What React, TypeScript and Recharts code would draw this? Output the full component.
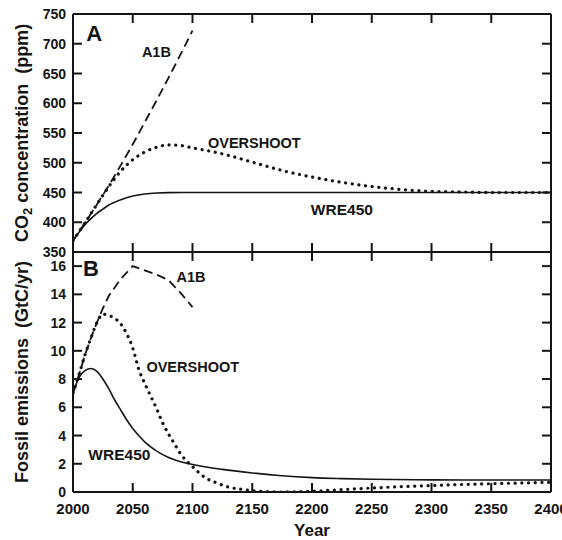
import React from 'react';
import { LineChart, Line, XAxis, YAxis, ReferenceDot, ReferenceLine } from 'recharts';

// ---------- data ----------
const xTicks = [2000, 2050, 2100, 2150, 2200, 2250, 2300, 2350, 2400];
const co2Ticks = [350, 400, 450, 500, 550, 600, 650, 700, 750];
const emisTicks = [0, 2, 4, 6, 8, 10, 12, 14, 16];

// Panel A: CO2 concentration (ppm)
const co2A1BYears = [2000, 2010, 2020, 2030, 2040, 2050, 2060, 2070, 2080, 2090, 2100];
const co2A1B = [369, 399, 430, 462, 496, 531, 568, 605, 643, 682, 722];

const co2OverYears = [2000, 2010, 2020, 2030, 2040, 2050, 2060, 2070, 2080, 2090, 2100, 2125, 2150, 2175, 2200, 2225, 2250, 2275, 2300, 2325, 2350, 2400];
const co2Over = [369, 399, 430, 460, 486, 505, 518, 526, 530, 529, 525, 515, 501, 487, 476, 467, 460, 455, 452, 451, 450, 450];

const co2WreYears = [2000, 2005, 2010, 2015, 2020, 2025, 2030, 2040, 2050, 2060, 2070, 2080, 2100, 2400];
const co2Wre = [369, 383, 396, 406, 415, 422, 429, 438, 444, 447.5, 449.2, 449.8, 450, 450];

// Panel B: fossil emissions (GtC/yr)
const emA1BYears = [2000, 2005, 2010, 2015, 2020, 2025, 2030, 2040, 2050, 2060, 2070, 2080, 2090, 2100];
const emA1B = [7.0, 8.3, 9.7, 10.9, 12.0, 13.0, 13.9, 15.1, 16.0, 15.7, 15.4, 15.0, 14.1, 13.1];

const emOverYears = [2000, 2005, 2010, 2015, 2020, 2025, 2030, 2035, 2040, 2045, 2050, 2055, 2060, 2065, 2070, 2075, 2080, 2085, 2090, 2095, 2100, 2105, 2110, 2120, 2130, 2140, 2150, 2160, 2175, 2200, 2225, 2250, 2275, 2300, 2325, 2350, 2375, 2400];
const emOver = [7.0, 8.3, 9.7, 10.9, 12.0, 12.6, 12.5, 12.3, 11.9, 11.2, 10.2, 8.7, 7.7, 6.8, 5.9, 4.9, 4.1, 3.4, 2.7, 2.2, 1.8, 1.4, 1.05, 0.65, 0.35, 0.2, 0.1, 0.03, 0, 0.05, 0.17, 0.28, 0.38, 0.46, 0.53, 0.59, 0.64, 0.69];

const emWreYears = [2000, 2005, 2010, 2015, 2020, 2025, 2030, 2035, 2040, 2045, 2050, 2055, 2060, 2070, 2080, 2090, 2100, 2125, 2150, 2175, 2200, 2225, 2250, 2300, 2350, 2400];
const emWre = [7.0, 8.1, 8.6, 8.75, 8.55, 8.0, 7.3, 6.5, 5.8, 5.1, 4.5, 4.0, 3.55, 2.9, 2.45, 2.15, 1.95, 1.6, 1.35, 1.15, 1.02, 0.95, 0.9, 0.86, 0.85, 0.85];

// annotations (text, year, value)
const topNotes = [
  { text: 'A', year: 2017.8, value: 718, size: 22 },
  { text: 'A1B', year: 2069.8, value: 686.6, size: 14.5 },
  { text: 'OVERSHOOT', year: 2151.7, value: 532.4, size: 14.5 },
  { text: 'WRE450', year: 2225, value: 421.4, size: 15.5 },
];
const bottomNotes = [
  { text: 'B', year: 2015, value: 15.8, size: 22 },
  { text: 'A1B', year: 2098.7, value: 15.25, size: 14.5 },
  { text: 'OVERSHOOT', year: 2100.2, value: 8.88, size: 14.5 },
  { text: 'WRE450', year: 2038.8, value: 2.69, size: 15.5 },
];

const rows = (years: number[], vals: number[]) => years.map((year, i) => ({ year, v: vals[i] }));

// ---------- layout / styles ----------
const FONT = '"Liberation Sans", Arial, Helvetica, sans-serif';
const INK = '#141414';
const W = 562;
const PLOT_L = 73;
const PLOT_R = 551;
const TOP_PLOT_TOP = 14;
const TICK = 9;
const TW = 2;
const axisLine = { stroke: INK, strokeWidth: 2 };

// left axis tick: inward tick at left, mirrored inward tick at right, label outside
const leftTick = (props: any) => {
  const { x, y, payload } = props;
  return (
    <g>
      <line x1={PLOT_L} y1={y} x2={PLOT_L + TICK} y2={y} stroke={INK} strokeWidth={TW} />
      <line x1={PLOT_R} y1={y} x2={PLOT_R - TICK} y2={y} stroke={INK} strokeWidth={TW} />
      <text x={x - 7} y={y + 5} textAnchor="end" fontFamily={FONT} fontWeight="bold" fontSize={14} fill={INK}>
        {payload.value}
      </text>
    </g>
  );
};

// upper panel x ticks: across the shared edge (both panels), and down from the top edge
const topXTick = (props: any) => {
  const { x, y } = props;
  return (
    <g>
      <line x1={x} y1={y - TICK} x2={x} y2={y + TICK} stroke={INK} strokeWidth={TW} />
      <line x1={x} y1={TOP_PLOT_TOP} x2={x} y2={TOP_PLOT_TOP + TICK} stroke={INK} strokeWidth={TW} />
    </g>
  );
};

// lower panel x ticks: inward tick and label
const bottomXTick = (props: any) => {
  const { x, y, payload } = props;
  return (
    <g>
      <line x1={x} y1={y} x2={x} y2={y - TICK} stroke={INK} strokeWidth={TW} />
      <text x={x} y={y + 22.4} textAnchor="middle" fontFamily={FONT} fontWeight="bold" fontSize={15} fill={INK}>
        {payload.value}
      </text>
    </g>
  );
};

const noteLabel = (text: string, size: number) => (props: any) => {
  const vb = props.viewBox || {};
  const cx = (vb.x || 0) + (vb.width || 0) / 2;
  const cy = (vb.y || 0) + (vb.height || 0) / 2;
  return (
    <text x={cx} y={cy} textAnchor="middle" dominantBaseline="central" fontFamily={FONT} fontWeight="bold" fontSize={size} fill={INK}>
      {text}
    </text>
  );
};

// axis titles (svg coordinates of each chart)
const co2Title = () => (
  <text x={22} y={133} transform="rotate(-90, 22, 133)" textAnchor="middle" dominantBaseline="central" fontFamily={FONT} fontWeight="bold" fontSize={18} fill={INK} style={{ whiteSpace: 'pre' }}>
    CO<tspan fontSize={13} dy={5}>2</tspan><tspan dy={-5}> concentration  (ppm)</tspan>
  </text>
);

const emTitle = () => (
  <text x={22} y={120} transform="rotate(-90, 22, 120)" textAnchor="middle" dominantBaseline="central" fontFamily={FONT} fontWeight="bold" fontSize={18} fill={INK} style={{ whiteSpace: 'pre' }}>
    Fossil emissions  (GtC/yr)
  </text>
);

const yearTitle = () => (
  <text x={312} y={284} textAnchor="middle" fontFamily={FONT} fontWeight="bold" fontSize={17} fill={INK}>
    Year
  </text>
);

const dashed = { stroke: INK, strokeWidth: 1.8, strokeDasharray: '9 5' };
const dotted = { stroke: INK, strokeWidth: 3.2, strokeDasharray: '0.1 6.6', strokeLinecap: 'round' as const };
const solid = { stroke: INK, strokeWidth: 1.6 };

export default function App() {
  return (
    <div style={{ position: 'absolute', left: 0, top: 0, width: W, height: 540, background: '#fff' }}>
      {/* lower panel first, upper panel painted above it */}
      <div style={{ position: 'absolute', left: 0, top: 252 }}>
        <LineChart width={W} height={288} margin={{ top: 0, right: W - PLOT_R, bottom: 0, left: 0 }}>
          <XAxis xAxisId="b" type="number" dataKey="year" domain={[2000, 2400]} ticks={xTicks} interval={0} orientation="bottom" height={48} tickSize={0} tickMargin={0} tick={bottomXTick} tickLine={false} axisLine={axisLine} allowDataOverflow />
          <YAxis yAxisId="l" type="number" domain={[0, 17]} ticks={emisTicks} interval={0} width={PLOT_L} tickSize={0} tickMargin={0} tick={leftTick} tickLine={false} axisLine={axisLine} allowDataOverflow />
          <ReferenceLine xAxisId="b" yAxisId="l" x={2400} stroke={INK} strokeWidth={2} />
          <Line xAxisId="b" yAxisId="l" data={rows(emWreYears, emWre)} dataKey="v" type="monotone" dot={false} activeDot={false} isAnimationActive={false} {...solid} />
          <Line xAxisId="b" yAxisId="l" data={rows(emA1BYears, emA1B)} dataKey="v" type="linear" dot={false} activeDot={false} isAnimationActive={false} {...dashed} />
          <Line xAxisId="b" yAxisId="l" data={rows(emOverYears, emOver)} dataKey="v" type="monotone" dot={false} activeDot={false} isAnimationActive={false} {...dotted} />
          {bottomNotes.map((n) => (
            <ReferenceDot key={n.text} xAxisId="b" yAxisId="l" x={n.year} y={n.value} r={0} fill="none" stroke="none" label={noteLabel(n.text, n.size)} />
          ))}
          <ReferenceDot xAxisId="b" yAxisId="l" x={2000} y={8} r={0} fill="none" stroke="none" ifOverflow="visible" label={emTitle} />
          <ReferenceDot xAxisId="b" yAxisId="l" x={2200} y={0} r={0} fill="none" stroke="none" ifOverflow="visible" label={yearTitle} />
        </LineChart>
      </div>
      <div style={{ position: 'absolute', left: 0, top: 0 }}>
        <LineChart width={W} height={262} margin={{ top: TOP_PLOT_TOP, right: W - PLOT_R, bottom: 0, left: 0 }}>
          <XAxis xAxisId="b" type="number" dataKey="year" domain={[2000, 2400]} ticks={xTicks} interval={0} orientation="bottom" height={10} tickSize={0} tickMargin={0} tick={topXTick} tickLine={false} axisLine={axisLine} allowDataOverflow />
          <YAxis yAxisId="l" type="number" domain={[350, 750]} ticks={co2Ticks} interval={0} width={PLOT_L} tickSize={0} tickMargin={0} tick={leftTick} tickLine={false} axisLine={axisLine} allowDataOverflow />
          <ReferenceLine xAxisId="b" yAxisId="l" y={750} stroke={INK} strokeWidth={2} />
          <ReferenceLine xAxisId="b" yAxisId="l" x={2400} stroke={INK} strokeWidth={2} />
          <Line xAxisId="b" yAxisId="l" data={rows(co2WreYears, co2Wre)} dataKey="v" type="monotone" dot={false} activeDot={false} isAnimationActive={false} {...solid} />
          <Line xAxisId="b" yAxisId="l" data={rows(co2A1BYears, co2A1B)} dataKey="v" type="monotone" dot={false} activeDot={false} isAnimationActive={false} {...dashed} />
          <Line xAxisId="b" yAxisId="l" data={rows(co2OverYears, co2Over)} dataKey="v" type="monotone" dot={false} activeDot={false} isAnimationActive={false} {...dotted} />
          {topNotes.map((n) => (
            <ReferenceDot key={n.text} xAxisId="b" yAxisId="l" x={n.year} y={n.value} r={0} fill="none" stroke="none" label={noteLabel(n.text, n.size)} />
          ))}
          <ReferenceDot xAxisId="b" yAxisId="l" x={2000} y={550} r={0} fill="none" stroke="none" ifOverflow="visible" label={co2Title} />
        </LineChart>
      </div>
    </div>
  );
}
